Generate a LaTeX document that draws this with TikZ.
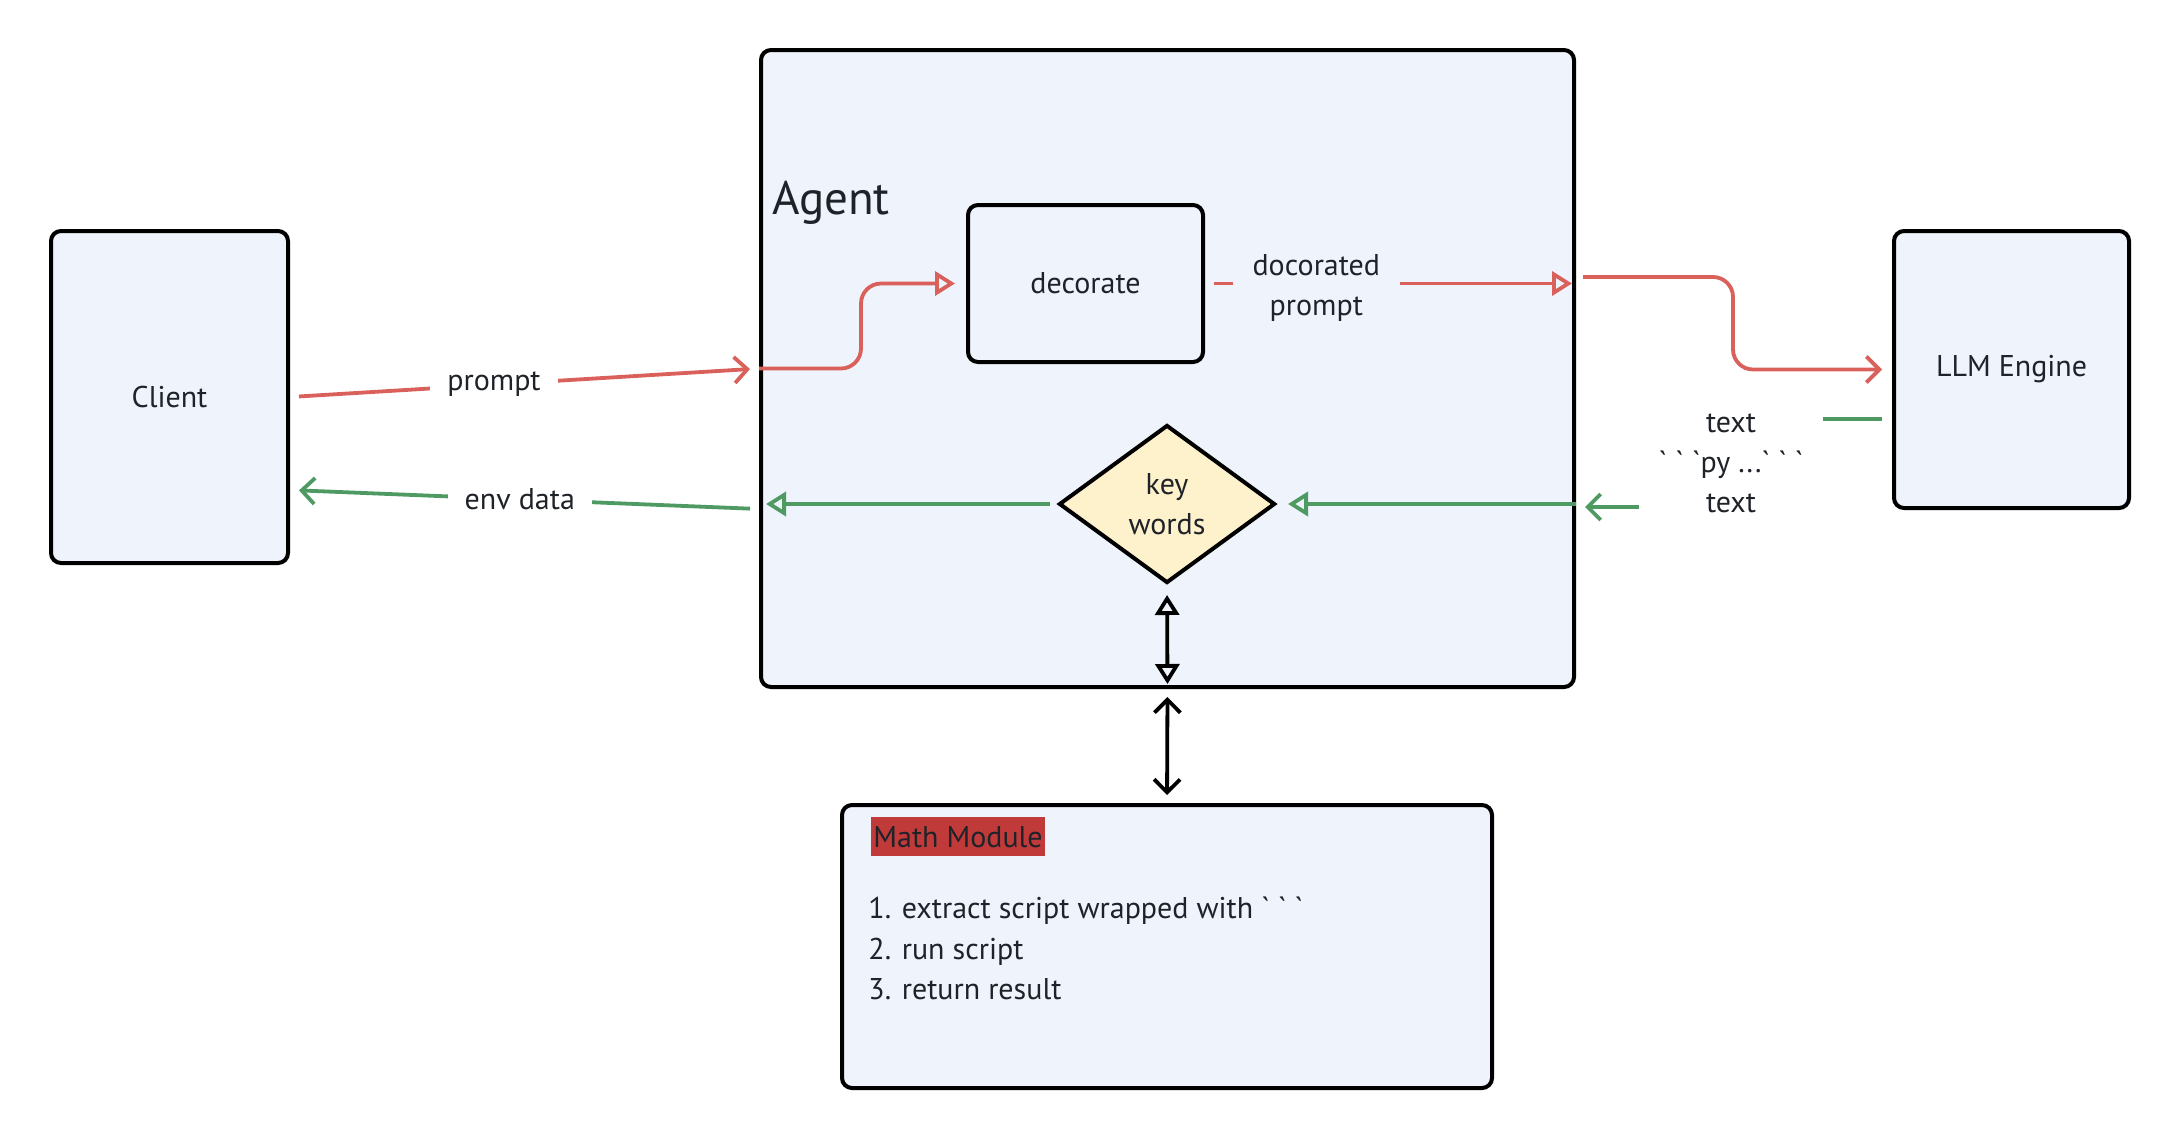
\documentclass[tikz,border=0pt]{standalone}
\usepackage{fontspec}
\setmainfont{PT Sans}
\usetikzlibrary{arrows.meta,shapes.geometric,calc}
\definecolor{boxfill}{HTML}{EFF4FC}
\definecolor{txt}{HTML}{1F2329}
\definecolor{redc}{HTML}{D9605B}
\definecolor{greenc}{HTML}{4F9A62}
\definecolor{keyfill}{HTML}{FEF2CC}
\definecolor{mathred}{HTML}{C13A3A}
\newcommand\dgfont{\fontsize{15}{20}\selectfont}
\newcommand\dgtick{\textasciigrave}
\begin{document}
\begin{tikzpicture}[x=0.5pt,y=-0.5pt,
  every node/.style={text=txt},
  box/.style={draw=black, line width=2pt, rounded corners=5pt, fill=boxfill, font=\dgfont, inner sep=0pt},
  lbl/.style={fill=white, font=\dgfont, inner xsep=8.5pt, inner ysep=2pt, align=center},
  redline/.style={draw=redc, line width=1.9pt},
  greenline/.style={draw=greenc, line width=1.9pt},
  blackline/.style={draw=black, line width=1.9pt},
  opentri/.style={-{Triangle[open,length=10pt,width=12pt]}},
  barb/.style={-{Straight Barb[length=6.5pt,width=13pt]}},
  dbltri/.style={{Triangle[open,length=10pt,width=12pt]}-{Triangle[open,length=10pt,width=12pt]}},
  dblbarb/.style={{Straight Barb[length=6.5pt,width=13pt]}-{Straight Barb[length=6.5pt,width=13pt]}}
]
\useasboundingbox (0,0) rectangle (2178,1136);

% boxes
\node[box, minimum width=118.5pt, minimum height=166pt] (client) at (169.5,397) {\raisebox{-1pt}{Client}};
\node[box, minimum width=406.5pt, minimum height=318.5pt] (agent) at (1167.5,368.5) {};
\node[anchor=base west, font=\fontsize{23.5}{28}\selectfont] (agenttitle) at (765,214) {Agent};
\node[box, minimum width=117.5pt, minimum height=78.5pt] (decorate) at (1085.5,283.5) {\raisebox{-1.5pt}{decorate}};
\node[box, minimum width=117.5pt, minimum height=138.5pt] (llm) at (2011.5,369.5) {\raisebox{-2pt}{LLM Engine}};
\node[draw=black, line width=2pt, fill=keyfill, diamond, aspect=1.367, inner sep=0pt,
      minimum width=108pt, minimum height=79pt, font=\dgfont, align=center] (keys) at (1167,504) {key\\words};
\node[box, minimum width=325pt, minimum height=141.5pt] (math) at (1167,946.5) {};
\node[anchor=north west, fill=mathred, font=\dgfont, inner xsep=1pt, inner ysep=0pt,
      minimum height=19.5pt] (mathtitle) at (871,817) {Math Module};
\node[anchor=base west, font=\dgfont, inner sep=0pt] (item1) at (868,918) {1. extract script wrapped with \dgtick\;\dgtick\;\dgtick};
\node[anchor=base west, font=\dgfont, inner sep=0pt] (item2) at (868,959) {2. run script};
\node[anchor=base west, font=\dgfont, inner sep=0pt] (item3) at (868,999) {3. return result};

% client -> agent
\draw[redline, barb, shorten <=4.5pt, shorten >=4.5pt] (client.east) -- node[lbl, pos=0.435] (promptlbl) {prompt} (agent.west);
% agent -> client
\draw[greenline, barb, shorten <=4.5pt, shorten >=4.5pt]
  ($(agent.west |- keys.west)+(0,5)$) -- node[lbl, pos=0.51] (envlbl) {env data} ($(client.east)+(0,93)$);
% agent left -> decorate
\draw[redline, opentri, rounded corners=10pt, shorten >=5.5pt] (agent.west) -- (861,368.5) |- (decorate.west);
% decorate -> agent right
\draw[redline, opentri, shorten <=4.5pt, shorten >=2pt] (decorate.east) --
  node[lbl, fill=boxfill, pos=0.3, inner xsep=10pt, yshift=-2pt] (declbl) {docorated\\prompt} (agent.east |- decorate.east);
% agent -> llm
\coordinate (rstart) at (1574,277);
\draw[redline, barb, rounded corners=10pt, shorten <=4.5pt, shorten >=5pt] (rstart) -- (1733,277) |- (llm.west);
% llm -> agent
\coordinate (gstart) at ($(llm.west)+(0,49.5)$);
\draw[greenline, barb, shorten <=5pt, shorten >=4.5pt] (gstart) -- (1731,419) --
  node[lbl, inner xsep=10pt, inner ysep=4pt] (codelbl) {text\\\dgtick\;\dgtick\;\dgtick py ...\dgtick\;\dgtick\;\dgtick\\text}
  (1731,507) -- (agent.east |- 0,507);
% agent right -> keys
\draw[greenline, opentri, shorten >=5.5pt] (agent.east |- keys.east) -- (keys.east);
% keys -> agent left
\draw[greenline, opentri, shorten <=3.5pt, shorten >=3.5pt] (keys.west) -- (agent.west |- keys.west);
% keys <-> agent bottom
\draw[blackline, dbltri, shorten <=5pt, shorten >=2.5pt] (keys.south) -- (agent.south);
% agent <-> math
\draw[blackline, dblbarb, shorten <=4pt, shorten >=4pt] (agent.south) -- (math.north);
\end{tikzpicture}
\end{document}
